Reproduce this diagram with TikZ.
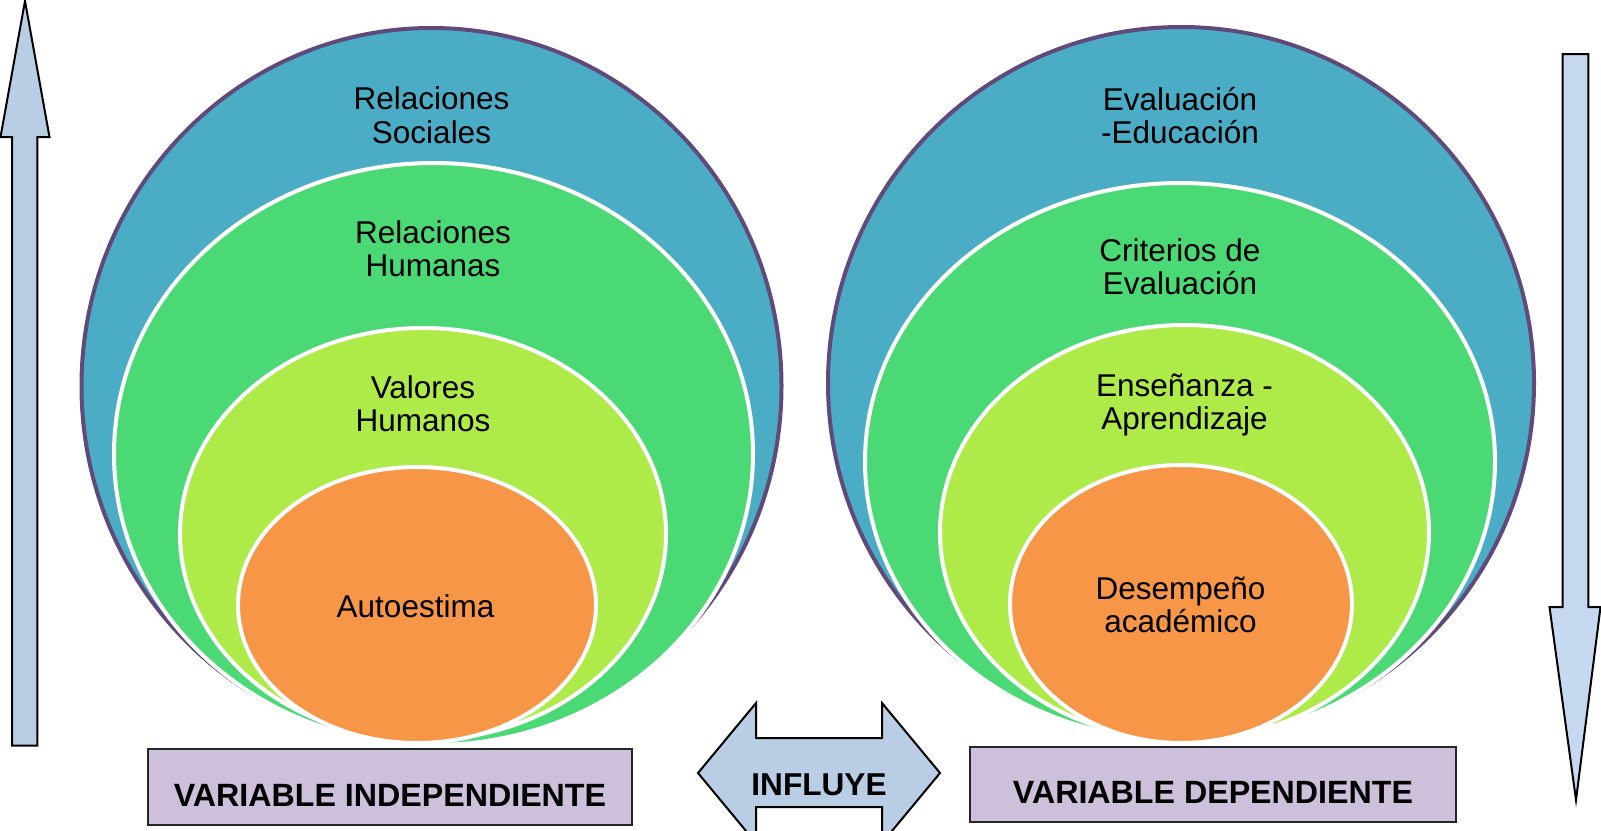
\documentclass[tikz,border=0pt]{standalone}
\usepackage{fontspec}
\setmainfont{Liberation Sans}
\definecolor{ringblue}{HTML}{4BACC6}
\definecolor{ringpurple}{HTML}{604A7B}
\definecolor{ringgreen}{HTML}{4AD974}
\definecolor{ringlime}{HTML}{AEEA48}
\definecolor{ringorange}{HTML}{F79646}
\definecolor{boxlilac}{HTML}{CCC0DA}
\definecolor{arrowblue}{HTML}{B9CDE5}
\definecolor{arrowpale}{HTML}{C6D9F1}
\begin{document}
\begin{tikzpicture}[x=0.5pt,y=-0.5pt,
  outerring/.style={fill=ringblue, draw=ringpurple, line width=2pt},
  ring/.style={draw=white, line width=2pt},
  ringtext/.style={align=center, inner sep=0pt, text=black, font=\fontsize{15.75}{16.7}\selectfont},
  varbox/.style={draw=black!85, line width=1pt, fill=boxlilac, inner sep=0pt,
    font=\bfseries\fontsize{16.1}{18}\selectfont, text height=21.5pt, text depth=2.5pt},
  bigarrow/.style={draw=black, line width=1pt, line join=miter}
]
\useasboundingbox (0,0) rectangle (1601,830);
\clip (0,0) rectangle (1601,830);

% left nested ellipses
\draw[outerring] (431.5,386) ellipse [x radius=350, y radius=358];
\draw[ring, fill=ringgreen] (433.5,454) ellipse [x radius=319.5, y radius=291];
\draw[ring, fill=ringlime] (423,534) ellipse [x radius=243, y radius=206];
\draw[ring, fill=ringorange] (417,605) ellipse [x radius=179, y radius=138];

% right nested ellipses
\draw[outerring] (1181,383) ellipse [x radius=353, y radius=356];
\draw[ring, fill=ringgreen] (1180,461.5) ellipse [x radius=315, y radius=278.5];
\draw[ring, fill=ringlime] (1184.5,532.5) ellipse [x radius=244.5, y radius=207.5];
\draw[ring, fill=ringorange] (1181,604) ellipse [x radius=171, y radius=139];

% texts
\node[ringtext] (rs) at (431.5,120) {\strut Relaciones\\\strut Sociales};
\node[ringtext] (rh) at (433,253.3) {\strut Relaciones\\\strut Humanas};
\node[ringtext] (vh) at (423,408.5) {\strut Valores\\\strut Humanos};
\node[ringtext] (ae) at (415.5,610.6) {\strut Autoestima};
\node[ringtext] (ee) at (1180,120.3) {\strut Evaluación\\\strut -Educación};
\node[ringtext] (ce) at (1180,271.3) {\strut Criterios de\\\strut Evaluación};
\node[ringtext] (ea) at (1184.5,406.6) {\strut Enseñanza -\\\strut Aprendizaje};
\node[ringtext] (da) at (1180.5,609.1) {\strut Desempeño\\\strut académico};

% variable boxes
\node[varbox, minimum width=242pt, minimum height=38pt] (vi) at (390,787) {VARIABLE INDEPENDIENTE};
\node[varbox, minimum width=243pt, minimum height=37.5pt] (vd) at (1213,784.5) {VARIABLE DEPENDIENTE};

% influye double arrow
\draw[bigarrow, fill=arrowblue] (698,773) -- (756,703) -- (756,738) -- (882,738) -- (882,703)
  -- (940,773) -- (882,843) -- (882,807) -- (756,807) -- (756,843) -- cycle;
\node[anchor=base, inner sep=0pt, font=\bfseries\fontsize{15.8}{18}\selectfont] (inf) at (819,795) {INFLUYE};

% vertical arrows
\draw[bigarrow, fill=arrowblue] (25,1) -- (49.5,137) -- (37.3,137) -- (37.3,745.7) -- (12,745.7)
  -- (12,137) -- (0.5,137) -- cycle;
\draw[bigarrow, fill=arrowpale] (1562.7,54) -- (1588.3,54) -- (1588.3,607) -- (1600.5,607)
  -- (1576,800) -- (1549.5,607) -- (1562.7,607) -- cycle;
\end{tikzpicture}
\end{document}
